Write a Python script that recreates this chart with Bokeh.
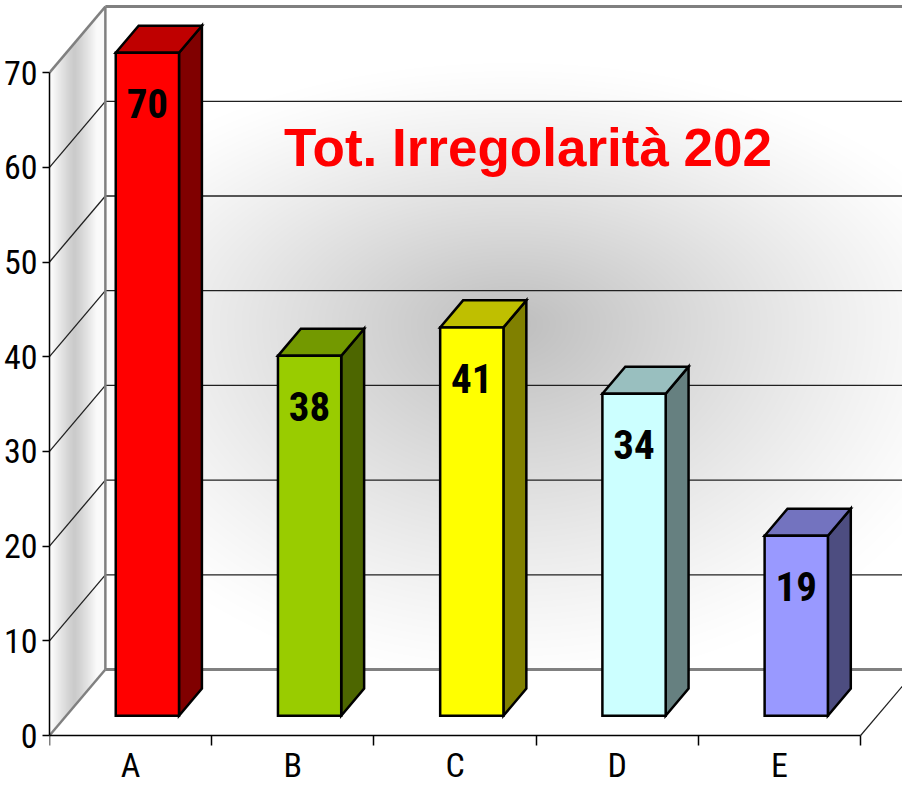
import numpy as np
from bokeh.plotting import figure
from bokeh.models import Range1d, FixedTicker, Label
from bokeh.core.properties import value
from bokeh.embed import file_html
from bokeh.resources import INLINE

# ---------------- data ----------------
categories = ["A", "B", "C", "D", "E"]
counts = [70, 38, 41, 34, 19]
front_colors = ["#FF0000", "#99CC00", "#FFFF00", "#CCFFFF", "#9999FF"]
top_colors = ["#BF0000", "#739900", "#BFBF00", "#99BFBF", "#7373BF"]
side_colors = ["#800000", "#4D6600", "#808000", "#668080", "#4D4D80"]
y_ticks = [0, 10, 20, 30, 40, 50, 60, 70]
title_text = "Tot. Irregolarità 202"

# ---------------- layout ----------------
W, H = 902, 785
LEFT = 47
FRAME_W = W - LEFT
FRAME_H = H
PX_X = 162.6          # pixels per category
PX_Y = 9.47           # pixels per unit of value
ZERO_PX = 735         # figure row of value 0
x_start, x_end = 0.0, FRAME_W / PX_X
y_end = ZERO_PX / PX_Y
y_start = y_end - FRAME_H / PX_Y

DX, DY = 56 / PX_X, 66 / PX_Y     # depth of the 3D walls
BAR_W = 0.39
F1, F2 = 0.30, 0.71
n = len(categories)
y_max = y_ticks[-1]

NARROW = "Roboto Condensed"

p = figure(width=W, height=H, output_backend="svg", toolbar_location=None,
           x_range=Range1d(x_start, x_end), y_range=Range1d(y_start, y_end),
           x_axis_location="above",
           min_border_left=LEFT, min_border_bottom=0,
           min_border_top=0, min_border_right=0)
p.outline_line_color = None
p.grid.visible = False
p.background_fill_color = "white"
p.border_fill_color = "white"

# ---------------- wall gradients (decoration) ----------------
cols = np.arange(FRAME_W) + 0.5
rows = np.arange(FRAME_H) + 0.5
XX, YY = np.meshgrid(x_start + cols / PX_X, y_start + rows / PX_Y)
shade = np.full(XX.shape, 255.0)

back = (XX >= DX) & (YY >= DY) & (YY <= y_max + DY)
bcx, bcy = 2.85, 43.5
ry = np.where(YY > bcy, 260.0, 360.0)
t = np.sqrt(((XX - bcx) * PX_X / 480.0) ** 2 + ((YY - bcy) * PX_Y / ry) ** 2)
back_shade = 255 - 65 * (1 - np.clip(t, 0, 1)) ** 1.2
shade[back] = back_shade[back]

s = np.clip(XX / DX, 0, 1)
side = (XX >= 0) & (XX < DX) & (YY >= s * DY) & (YY <= y_max + s * DY)
u = np.abs(XX * PX_X - 25.0) / 22.0
side_shade = 203 + 47 * np.clip(u, 0, 1) ** 1.2
shade[side] = side_shade[side]

img = np.empty(XX.shape, dtype=np.uint32)
view = img.view(dtype=np.uint8).reshape((FRAME_H, FRAME_W, 4))
g = shade.astype(np.uint8)
view[:, :, 0] = g
view[:, :, 1] = g
view[:, :, 2] = g
view[:, :, 3] = 255
p.image_rgba(image=[img], x=x_start, y=y_start, dw=x_end - x_start, dh=y_end - y_start)

# ---------------- gridlines on walls ----------------
inner = y_ticks[1:-1]
p.segment(x0=[DX] * len(inner), y0=[v + DY for v in inner],
          x1=[x_end + 1] * len(inner), y1=[v + DY for v in inner],
          line_color="#202020", line_width=1.3)
p.segment(x0=[0] * len(inner), y0=inner,
          x1=[DX] * len(inner), y1=[v + DY for v in inner],
          line_color="#202020", line_width=1.3)
edge = [y_ticks[0], y_ticks[-1]]
p.segment(x0=[DX] * 2, y0=[v + DY for v in edge], x1=[x_end + 1] * 2,
          y1=[v + DY for v in edge], line_color="#808080", line_width=3)
p.segment(x0=[0] * 2, y0=edge, x1=[DX] * 2, y1=[v + DY for v in edge],
          line_color="#808080", line_width=2.5)
p.segment(x0=[DX], y0=[DY], x1=[DX], y1=[y_max + DY],
          line_color="#808080", line_width=2.5)
p.segment(x0=[n], y0=[0], x1=[n + DX], y1=[DY], line_color="#202020", line_width=1.2)

# ---------------- 3D bars ----------------
xc = [i + 0.5 for i in range(n)]
xl = [c - BAR_W / 2 + F1 * DX for c in xc]
xr = [c + BAR_W / 2 + F1 * DX for c in xc]
yb = F1 * DY
yt = [v + yb for v in counts]
ddx, ddy = (F2 - F1) * DX, (F2 - F1) * DY

p.patches(xs=[[r, r + ddx, r + ddx, r] for r in xr],
          ys=[[yb, yb + ddy, tt + ddy, tt] for tt in yt],
          fill_color=side_colors, line_color="black", line_width=2.5, line_join="miter")
p.patches(xs=[[l, r, r + ddx, l + ddx] for l, r in zip(xl, xr)],
          ys=[[tt, tt, tt + ddy, tt + ddy] for tt in yt],
          fill_color=top_colors, line_color="black", line_width=2.5, line_join="miter")
p.patches(xs=[[l, r, r, l] for l, r in zip(xl, xr)],
          ys=[[yb, yb, tt, tt] for tt in yt],
          fill_color=front_colors, line_color="black", line_width=2.5, line_join="miter")

p.text(x=[c + F1 * DX for c in xc], y=[tt - 51 / PX_Y for tt in yt],
       text=[str(v) for v in counts], text_align="center", text_baseline="middle",
       text_font=value(NARROW), text_font_style="bold",
       text_font_size=value("41px"), text_color="black")

p.add_layout(Label(x=2.95, y=62.1, text=title_text, text_align="center",
                   text_baseline="middle", text_font="Liberation Sans",
                   text_font_style="bold", text_font_size="53px", text_color="#FF0000"))

# ---------------- axes ----------------
ya = p.yaxis[0]
ya.ticker = FixedTicker(ticks=y_ticks, minor_ticks=[])
ya.bounds = (y_ticks[0], y_ticks[-1])
ya.major_tick_out = 7
ya.major_tick_in = 0
ya.major_tick_line_color = "black"
ya.major_tick_line_width = 1.5
ya.axis_line_color = "black"
ya.axis_line_width = 1.5
ya.major_label_standoff = 5
ya.major_label_text_font = NARROW
ya.major_label_text_font_size = "34px"
ya.major_label_text_color = "black"

xa = p.xaxis[0]
xa.fixed_location = 0
xa.ticker = FixedTicker(ticks=xc, minor_ticks=list(range(n + 1)))
xa.major_label_overrides = {c: lab for c, lab in zip(xc, categories)}
xa.bounds = (0, n)
xa.major_tick_out = 0
xa.major_tick_in = 0
xa.minor_tick_out = 0
xa.minor_tick_in = 10
xa.minor_tick_line_color = "black"
xa.minor_tick_line_width = 1.5
xa.axis_line_color = "black"
xa.axis_line_width = 1.5
xa.major_label_standoff = -49
xa.major_label_text_font = NARROW
xa.major_label_text_font_size = "34px"
xa.major_label_text_color = "black"

open("out.html", "w").write(file_html(p, INLINE))
